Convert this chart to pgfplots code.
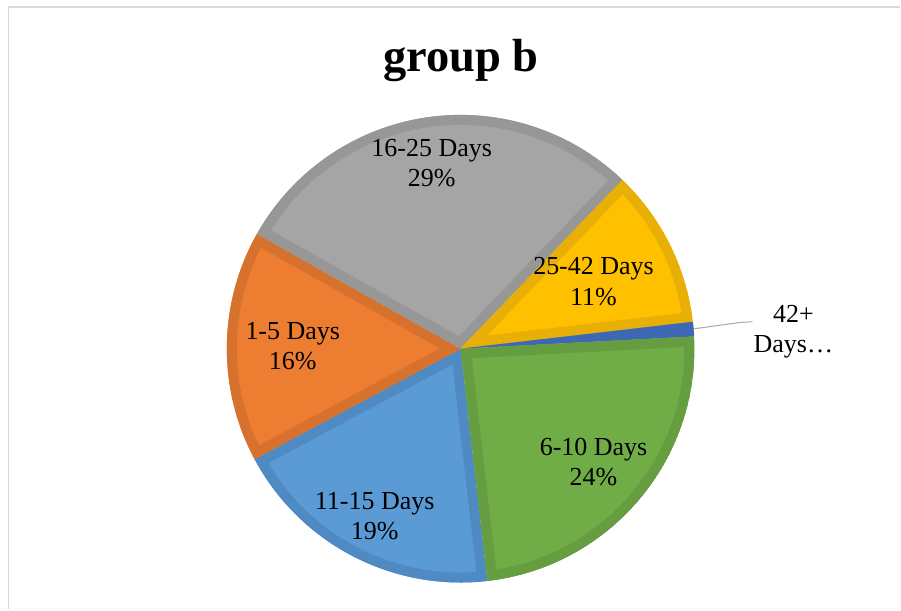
\documentclass[border=0pt]{standalone}
\usepackage{pgfplots}
\pgfplotsset{compat=1.18}
\usepackage{pgfplotstable}
\usepackage{fontspec}
\setmainfont{Liberation Serif}

% slice colours: fill and a darker rim
\definecolor{slicefill0}{HTML}{5B9BD5}\definecolor{slicerim0}{HTML}{4F8AC2}
\definecolor{slicefill1}{HTML}{ED7D31}\definecolor{slicerim1}{HTML}{D7712E}
\definecolor{slicefill2}{HTML}{A5A5A5}\definecolor{slicerim2}{HTML}{979797}
\definecolor{slicefill3}{HTML}{FFC000}\definecolor{slicerim3}{HTML}{E8AF06}
\definecolor{slicefill4}{HTML}{4472C4}\definecolor{slicerim4}{HTML}{3E68B3}
\definecolor{slicefill5}{HTML}{70AD47}\definecolor{slicerim5}{HTML}{669D41}
\definecolor{framegray}{HTML}{D9D9D9}
\definecolor{leadergray}{HTML}{A6A6A6}

% share of each duration class, in drawing order (clockwise)
\pgfplotstableread[col sep=comma]{
label,pct
11-15 Days,19
1-5 Days,16
16-25 Days,29
25-42 Days,11
42+ Days,1
6-10 Days,24
}\piedata

% cumulative start/end angles of every slice
\xdef\cumangle{-83.4}
\foreach \i in {0,...,5}{%
  \pgfplotstablegetelem{\i}{pct}\of\piedata
  \pgfmathsetmacro\tmpend{\cumangle-3.6*\pgfplotsretval}%
  \expandafter\xdef\csname sliceA\i\endcsname{\cumangle}%
  \expandafter\xdef\csname sliceB\i\endcsname{\tmpend}%
  \xdef\cumangle{\tmpend}%
}

\newcommand\slicepath[1]{(axis cs:461,261) -- ++({\csname sliceA#1\endcsname}:234pt)
  arc[start angle=\csname sliceA#1\endcsname, end angle=\csname sliceB#1\endcsname, radius=234pt] -- cycle}

\newcommand\lbl{\fontsize{26}{30}\selectfont}

\begin{document}
\begin{tikzpicture}
\begin{axis}[
  scale only axis, width=901pt, height=610pt,
  xmin=0, xmax=901, ymin=0, ymax=610,
  hide axis, clip=false,
]
\path (axis cs:0,0) rectangle (axis cs:901,610);

% chart-area frame
\draw[framegray, line width=1.5pt] (axis cs:8.5,0) -- (axis cs:8.5,603) -- (axis cs:901,603);

% title
\node[anchor=base, inner sep=0pt, font=\fontsize{46.5}{50}\selectfont\bfseries] at (axis cs:461.5,538) {group b};

% slices
\pgfplotsinvokeforeach{0,...,5}{
  \begin{scope}
    \clip \slicepath{#1};
    \fill[slicefill#1] \slicepath{#1};
    \draw[slicerim#1, line width=20pt] \slicepath{#1};
  \end{scope}
}

% leader line for the smallest slice
\draw[leadergray, line width=1pt] (axis cs:695,281) -- (axis cs:741,287.3) -- (axis cs:753,288);

% data labels
\begin{scope}[every node/.style={anchor=base, inner sep=0pt, font=\lbl}]
\node at (axis cs:432,453.3) {16-25 Days};
\node at (axis cs:432,423) {29\%};
\node at (axis cs:594,335) {25-42 Days};
\node at (axis cs:594,304) {11\%};
\node at (axis cs:293,270) {1-5 Days};
\node at (axis cs:293,240) {16\%};
\node at (axis cs:594,154) {6-10 Days};
\node at (axis cs:594,124) {24\%};
\node at (axis cs:375,100) {11-15 Days};
\node at (axis cs:375,70) {19\%};
\node at (axis cs:794,287) {42+};
\node at (axis cs:794,257) {Days…};
\end{scope}
\end{axis}
\end{tikzpicture}
\end{document}
